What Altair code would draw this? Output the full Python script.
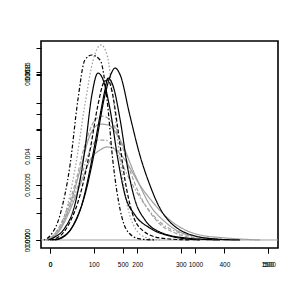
import altair as alt
import pandas as pd

# ---- data (density curves) ----
curve_names = ["I", "H", "G", "F", "D", "E", "J", "C", "B", "A"]
curve_colors = ["#a0a0a0", "#a0a0a0", "#a0a0a0", "#a0a0a0", "#9a9a9a",
                "#000000", "#000000", "#000000", "#000000", "#000000"]
curve_dashes = [[1, 0], [1.5, 2, 4, 2], [1, 0], [4, 2], [1.5, 2],
                [1.5, 2, 4, 2], [4, 2], [1, 0], [1, 0], [1, 0]]

xA = [11, 34, 57, 80, 103, 126, 142, 149, 161, 183, 206, 229, 252, 275, 298, 333, 378, 436]
yA = [0, 0.19, 0.86, 2.14, 4.29, 6.90, 8.00, 8.19, 7.86, 5.95, 4.05, 2.62, 1.52, 0.86, 0.48, 0.19, 0.05, 0]
xB = [-5, 11, 34, 57, 80, 96, 110, 122, 138, 156, 172, 195, 229, 275, 344]
yB = [0, 0.14, 0.57, 1.67, 4.29, 6.90, 7.95, 7.62, 6.19, 3.81, 2.14, 1.19, 0.57, 0.19, 0]
xC = [5, 28, 50, 73, 96, 115, 126, 133, 144, 161, 179, 195, 218, 252, 310, 390]
yC = [0, 0.14, 0.57, 1.67, 3.81, 5.95, 7.14, 7.71, 7.38, 5.71, 3.33, 1.90, 0.95, 0.38, 0.10, 0]
xD = [-9, 11, 34, 57, 80, 99, 117, 131, 144, 161, 177, 195, 218, 252]
yD = [0, 0.29, 1.19, 3.33, 6.43, 8.57, 9.29, 8.81, 6.90, 3.81, 1.67, 0.57, 0.14, 0]
xE = [-14, 0, 23, 46, 64, 80, 96, 115, 131, 144, 161, 179, 206, 241]
yE = [0, 0.19, 1.19, 3.57, 6.67, 8.57, 8.81, 8.57, 6.67, 3.81, 1.43, 0.38, 0.05, 0]
xF = [-9, 11, 34, 57, 80, 103, 119, 138, 161, 183, 206, 229, 252, 287, 333, 413]
yF = [0, 0.29, 1.19, 2.62, 4.52, 5.71, 5.90, 5.71, 4.76, 3.33, 2.14, 1.33, 0.76, 0.33, 0.10, 0]
xG = [-5, 18, 46, 69, 92, 115, 133, 161, 195, 229, 264, 298, 344, 413]
yG = [0, 0.38, 1.67, 3.33, 5.00, 5.52, 5.48, 4.76, 3.10, 1.67, 0.86, 0.38, 0.14, 0]
xH = [-7, 16, 41, 69, 92, 110, 126, 149, 183, 218, 252, 298, 356, 436]
yH = [0, 0.33, 1.33, 2.86, 4.29, 4.76, 4.76, 4.29, 2.86, 1.67, 0.86, 0.33, 0.10, 0]
xI = [-5, 23, 46, 69, 92, 115, 131, 149, 172, 206, 241, 275, 310, 344, 401, 482]
yI = [0, 0.48, 1.43, 2.62, 3.81, 4.29, 4.43, 4.33, 3.81, 2.62, 1.67, 0.95, 0.48, 0.24, 0.10, 0]
xJ = [0, 23, 46, 69, 92, 110, 124, 133, 144, 156, 172, 188, 211, 252, 321]
yJ = [0, 0.19, 0.86, 2.14, 4.29, 6.43, 7.52, 7.62, 6.90, 5.24, 2.86, 1.33, 0.48, 0.10, 0]

series = {"A": (xA, yA), "B": (xB, yB), "C": (xC, yC), "D": (xD, yD), "E": (xE, yE),
          "F": (xF, yF), "G": (xG, yG), "H": (xH, yH), "I": (xI, yI), "J": (xJ, yJ)}

# axis tick values (several overlaid axes)
x1_ticks = [0, 100, 200, 300, 400, 500]
x2_ticks = [0, 500, 1000, 1500]
y1_ticks = [0, 0.002, 0.004, 0.006, 0.008]
y2_ticks = [0, 0.01, 0.02, 0.03, 0.04, 0.05, 0.06, 0.07]
y3_ticks = [0, 0.00005, 0.0001, 0.00015]

# scale domains
XD1 = [-20.6, 522.9]
XD2 = [-61.9, 1568]
YD1 = [-0.000381, 0.009476]
YD2 = [-0.00291, 0.0724]
YD3 = [-0.0000072, 0.0001793]

rows = []
for name in curve_names:
    xs, ys = series[name]
    for xv, yv in zip(xs, ys):
        rows.append({"curve": name, "x": xv, "y": yv * 0.001})
df = pd.DataFrame(rows)

FONT = "Liberation Sans"
axis_common = dict(title=None, domain=False, tickColor="black", tickSize=5,
                   tickWidth=1, labelFont=FONT, labelFontSize=6.5,
                   labelColor="black", grid=False, labelOverlap=False,
                   labelFlush=False)
yaxis_common = dict(axis_common, labelAngle=270, labelAlign="center",
                    labelBaseline="bottom", labelPadding=6)
xaxis_common = dict(axis_common, labelPadding=8)

lines = alt.Chart(df).mark_line(strokeWidth=1.2, interpolate="monotone").encode(
    x=alt.X("x:Q", scale=alt.Scale(domain=XD1, nice=False, zero=False),
            axis=alt.Axis(values=x1_ticks, orient="bottom", format="d", **xaxis_common)),
    y=alt.Y("y:Q", scale=alt.Scale(domain=YD1, nice=False, zero=False),
            axis=alt.Axis(values=y1_ticks, orient="left", format=".3f",
                          labelExpr="(datum.label == '0.002' || datum.label == '0.006') ? '' : datum.label",
                          **yaxis_common)),
    color=alt.Color("curve:N", scale=alt.Scale(domain=curve_names, range=curve_colors), legend=None),
    strokeDash=alt.StrokeDash("curve:N", scale=alt.Scale(domain=curve_names, range=curve_dashes), legend=None),
    order=alt.Order("curve:N"),
)

base_df = pd.DataFrame({"y": [0.0]})
baseline = alt.Chart(base_df).mark_rule(color="#a0a0a0", strokeWidth=1).encode(
    y=alt.Y("y:Q", scale=alt.Scale(domain=YD1, nice=False, zero=False), axis=None),
)

ax2_df = pd.DataFrame({"x": [0], "y": [0.0]})
axis2 = alt.Chart(ax2_df).mark_point(opacity=0).encode(
    x=alt.X("x:Q", scale=alt.Scale(domain=XD2, nice=False, zero=False),
            axis=alt.Axis(values=x2_ticks, orient="bottom", format="d", **xaxis_common)),
    y=alt.Y("y:Q", scale=alt.Scale(domain=YD2, nice=False, zero=False),
            axis=alt.Axis(values=y2_ticks, orient="left", format=".2f",
                          labelExpr="(datum.label == '0.06') ? datum.label : ''",
                          **yaxis_common)),
)

ax3_df = pd.DataFrame({"y": [0.0]})
axis3 = alt.Chart(ax3_df).mark_point(opacity=0).encode(
    y=alt.Y("y:Q", scale=alt.Scale(domain=YD3, nice=False, zero=False),
            axis=alt.Axis(values=y3_ticks, orient="left", format=".5f",
                          labelExpr="(datum.label == '0.00010') ? '' : datum.label",
                          **yaxis_common)),
)

chart = alt.layer(baseline, lines, axis2, axis3).resolve_scale(
    x="independent", y="independent"
).properties(
    width=237, height=207,
    autosize=alt.AutoSizeParams(type="none"),
    padding={"left": 33, "top": 33, "right": 10, "bottom": 30},
    background="white",
).configure_view(stroke="black", strokeWidth=1.6)

chart.save("out.html", embed_options={"renderer": "svg", "actions": False})
